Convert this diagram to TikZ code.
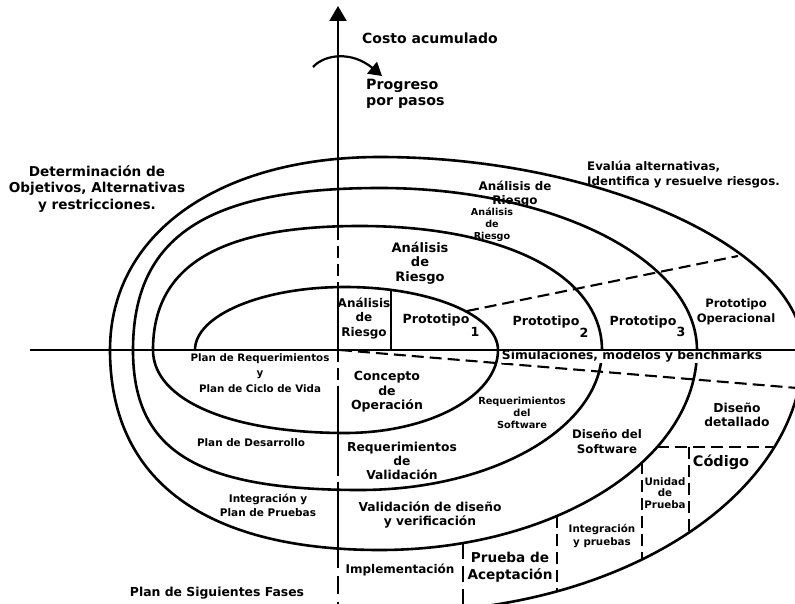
\documentclass[tikz,border=0pt]{standalone}
\usepackage{fontspec}
\setmainfont{DejaVu Sans}
\usetikzlibrary{arrows.meta}
\newcommand{\myfs}[2]{\fontsize{#1}{#2}\selectfont}
\tikzset{
  curve/.style={line width=2.6pt, line join=round, line cap=round},
  axisline/.style={line width=2.1pt},
  dsh/.style={line width=2.1pt, dash pattern=on 12pt off 6pt},
  lbl/.style={align=center, inner sep=0pt},
}
\begin{document}
\begin{tikzpicture}[x=1pt,y=-1pt]
\useasboundingbox (0,0) rectangle (795,604);
\fill[white] (0,0) rectangle (795,604);
\begin{scope}
\clip (0,0) rectangle (795,604);
\draw[curve] (195,350) .. controls (195,315.2) and (262.2,287) .. (345,287)
 .. controls (429.5,287) and (498,315.2) .. (498,350)
 .. controls (498,395.8) and (429.5,433) .. (345,433)
 .. controls (229.8,433) and (153,399.8) .. (153,350)
 .. controls (153,265.7) and (219.2,226) .. (360,226)
 .. controls (505.2,226) and (602,275.6) .. (602,350)
 .. controls (602,427.3) and (493.6,490) .. (360,490)
 .. controls (196.6,490) and (133,450.8) .. (133,350)
 .. controls (133,236.6) and (207.1,188) .. (380,188)
 .. controls (555,188) and (697,260.6) .. (697,350)
 .. controls (697,460.4) and (555,550) .. (380,550)
 .. controls (204.5,550) and (110,480) .. (110,350)
 .. controls (110,234.2) and (218,157) .. (380,157)
 .. controls (600,157) and (803,249.6) .. (803,350)
 .. controls (803,494.6) and (622.5,612) .. (400,612);
\end{scope}

% axes
\coordinate (hl) at (30,350);
\coordinate (hr) at (795,350);
\draw[axisline] (hl) -- (hr);
\coordinate (vtop) at (338,6);
\coordinate (v1) at (338,228);
\coordinate (v2) at (338,287);
\coordinate (v3) at (338,350);
\coordinate (v4) at (338,398);
\coordinate (v5) at (338,464);
\coordinate (v6) at (338,490);
\coordinate (v7) at (338,550);
\coordinate (vbot) at (338,604);
\draw[axisline, -{Triangle[width=17pt,length=15pt]}] (v1) -- (vtop);
\draw[dsh] (v1) -- (v2);
\draw[axisline] (v2) -- (v3);
\draw[dsh] (v3) -- (v4);
\draw[axisline] (v4) -- (v5);
\draw[dsh] (v5) -- (v6);
\draw[axisline] (v6) -- (v7);
\draw[dsh, dash pattern=on 18pt off 8pt] (v7) -- (vbot);

% curved arrow
\coordinate (ca1) at (313,67);
\coordinate (ca2) at (382,76);
\draw[line width=2.2pt, -{Triangle[width=15pt,length=13pt]}] (ca1) .. controls (325,54) and (352,51) .. (ca2);

% dashed dividers
\coordinate (d1a) at (467,311); \coordinate (d1b) at (738,256);
\draw[dsh] (d1a) -- (d1b);
\coordinate (d2a) at (340,350); \coordinate (d2b) at (797,388);
\draw[dsh] (d2a) -- (d2b);
\coordinate (d3a) at (657,447); \coordinate (d3b) at (773,447);
\draw[dsh] (d3a) -- (d3b);
\coordinate (e1a) at (689,447); \coordinate (e1b) at (689,532);
\draw[dsh] (e1a) -- (e1b);
\coordinate (e2a) at (642,462); \coordinate (e2b) at (642,559);
\draw[dsh] (e2a) -- (e2b);
\coordinate (e3a) at (557,516); \coordinate (e3b) at (557,591);
\draw[dsh] (e3a) -- (e3b);
\coordinate (e4a) at (463,543); \coordinate (e4b) at (463,604);
\draw[dsh, dash pattern=on 16pt off 7pt] (e4a) -- (e4b);
\coordinate (e5a) at (391,290); \coordinate (e5b) at (391,350);
\draw[axisline] (e5a) -- (e5b);

% labels
\node[lbl, anchor=west, font={\bfseries\myfs{14}{16}}] (costo) at (362,38) {Costo acumulado};
\node[lbl, anchor=west, align=left, font={\bfseries\myfs{14.2}{16}}] (prog) at (366,94) {Progreso\\por pasos};
\node[lbl, font={\bfseries\myfs{13.6}{16.5}}] (det) at (97,189) {Determinación de\\Objetivos, Alternativas\\y restricciones.};
\node[lbl, anchor=west, align=left, font={\bfseries\myfs{11.8}{15}}] (eval) at (587,175) {Evalúa alternativas,\\Identifica y resuelve riesgos.};
\node[lbl, font={\bfseries\myfs{11.9}{13.5}}] (ar4) at (515,194) {Análisis de\\Riesgo};
\node[lbl, font={\bfseries\myfs{9.6}{12}}] (ar3) at (492,225) {Análisis\\de\\Riesgo};
\node[lbl, font={\bfseries\myfs{13}{14.5}}] (ar2) at (420,263) {Análisis\\de\\Riesgo};
\node[lbl, font={\bfseries\myfs{12}{14.5}}] (ar1) at (364,318) {Análisis\\de\\Riesgo};
\node[lbl, font={\bfseries\myfs{12.6}{14}}] (p1) at (436,320) {Prototipo};
\node[lbl, font={\bfseries\myfs{12.6}{14}}] (p1n) at (475,332) {1};
\node[lbl, font={\bfseries\myfs{12.6}{14}}] (p2) at (546,322) {Prototipo};
\node[lbl, font={\bfseries\myfs{12.6}{14}}] (p2n) at (584,333) {2};
\node[lbl, font={\bfseries\myfs{12.6}{14}}] (p3) at (643,322) {Prototipo};
\node[lbl, font={\bfseries\myfs{12.6}{14}}] (p3n) at (681,332) {3};
\node[lbl, font={\bfseries\myfs{11.6}{15}}] (pop) at (736,312) {Prototipo\\Operacional};
\node[lbl, fill=white, font={\bfseries\myfs{12.3}{14}}] (sim) at (632,356.5) {Simulaciones, modelos y benchmarks};
\node[lbl, font={\bfseries\myfs{10.3}{15.5}}] (preq) at (260,373) {Plan de Requerimientos\\y\\Plan de Ciclo de Vida};
\node[lbl, font={\bfseries\myfs{12.5}{14.5}}] (conc) at (387,392) {Concepto\\de\\Operación};
\node[lbl, font={\bfseries\myfs{9.8}{12}}] (rsw) at (522,413) {Requerimientos\\del\\Software};
\node[lbl, font={\bfseries\myfs{10.4}{12}}] (pdes) at (251,443) {Plan de Desarrollo};
\node[lbl, font={\bfseries\myfs{12.3}{14}}] (rval) at (402,461) {Requerimientos\\de\\Validación};
\node[lbl, font={\bfseries\myfs{11.8}{15}}] (dsw) at (607,441) {Diseño del\\Software};
\node[lbl, font={\bfseries\myfs{12.3}{13.5}}] (ddet) at (737,415) {Diseño\\detallado};
\node[lbl, font={\bfseries\myfs{14.5}{16}}] (cod) at (721,462) {Código};
\node[lbl, font={\bfseries\myfs{10.3}{11.5}}] (unid) at (665,493) {Unidad\\de\\Prueba};
\node[lbl, font={\bfseries\myfs{10.5}{14}}] (ipp) at (268,505) {Integración y\\Plan de Pruebas};
\node[lbl, font={\bfseries\myfs{12.3}{14.5}}] (vdis) at (430,515) {Validación de diseño\\y verificación};
\node[lbl, font={\bfseries\myfs{10.3}{12.5}}] (iyp) at (602,536) {Integración\\y pruebas};
\node[lbl, font={\bfseries\myfs{12}{14}}] (impl) at (400,570) {Implementación};
\node[lbl, font={\bfseries\myfs{13.6}{17}}] (pacep) at (510,567) {Prueba de\\Aceptación};
\node[lbl, font={\bfseries\myfs{12.4}{14}}] (psig) at (217,593) {Plan de Siguientes Fases};
\end{tikzpicture}
\end{document}
